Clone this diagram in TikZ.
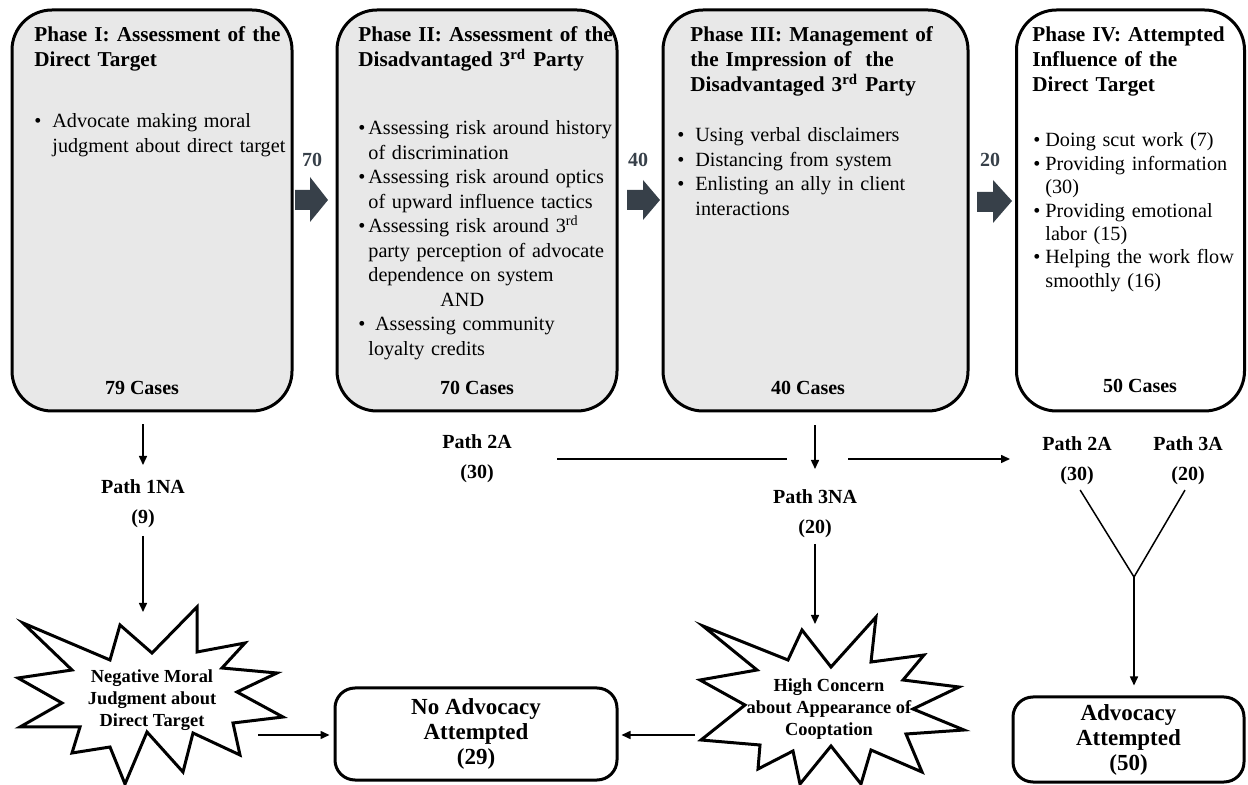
\documentclass[tikz,border=0pt]{standalone}
\usepackage{fontspec}
\setmainfont{Liberation Serif}
\usetikzlibrary{arrows.meta}
\definecolor{arrowgray}{RGB}{55,64,73}
\definecolor{boxgray}{RGB}{232,232,232}
\newcommand{\bitem}[2]{\leftskip=#1\relax\noindent\hspace*{-#1}\makebox[#1][l]{\textbullet}#2\par}
\begin{document}
\begin{tikzpicture}[x=0.5pt,y=-0.5pt,
  phase/.style={draw=black, line width=1.5pt, rounded corners=20pt, inner sep=0, minimum height=200.5pt},
  title/.style={anchor=base west, inner sep=0, text width=200pt, align=left, font=\fontsize{10.6}{12.5}\selectfont\bfseries},
  body/.style={anchor=base west, inner sep=0, text width=200pt, align=left, font=\fontsize{10.1}{12.25}\selectfont},
  cases/.style={anchor=base, inner sep=0, font=\fontsize{10}{12}\selectfont\bfseries},
  num/.style={anchor=base, inner sep=0, text=arrowgray, font=\fontsize{10}{12}\selectfont\bfseries},
  bigarrow/.style={fill=arrowgray},
  pathlbl/.style={anchor=north, inner sep=0, align=center, font=\fontsize{10}{15}\selectfont\bfseries},
  conn/.style={line width=0.75pt, -{Triangle[length=4.5pt,width=4pt]}},
  plain/.style={line width=0.75pt},
  burst/.style={draw, line width=1.5pt, fill=white, line join=miter},
  bursttext/.style={inner sep=0, align=center, font=\fontsize{9.2}{10.85}\selectfont\bfseries},
  outcome/.style={draw, line width=1.5pt, rounded corners=10pt, inner sep=0, align=center, font=\fontsize{11.5}{12.5}\selectfont\bfseries}
]
\useasboundingbox (0,0) rectangle (1248,785);

% phase boxes
\node[phase, fill=boxgray, minimum width=140pt] (b1) at (152,210.5) {};
\node[phase, fill=boxgray, minimum width=140pt] (b2) at (477,210.5) {};
\node[phase, fill=boxgray, minimum width=152.5pt] (b3) at (815.5,210.5) {};
\node[phase, fill=white, minimum width=114pt] (b4) at (1130.5,210.5) {};

% titles
\node[title] (t1) at (34,42) {Phase I: Assessment of the\\Direct Target};
\node[title] (t2) at (358,42) {Phase II: Assessment of the\\Disadvantaged 3\textsuperscript{rd} Party};
\node[title] (t3) at (690,42) {Phase III: Management of\\the Impression of\ \ the\\Disadvantaged 3\textsuperscript{rd} Party};
\node[title] (t4) at (1032,42) {Phase IV: Attempted\\Influence of the\\Direct Target};

% bodies
\node[body] (d1) at (34,128) {\bitem{9pt}{Advocate making moral\newline judgment about direct target}};
\node[body] (d2) at (358,135) {\bitem{5pt}{Assessing risk around history\newline of discrimination}\bitem{5pt}{Assessing risk around optics\newline of upward influence tactics}\bitem{5pt}{Assessing risk around 3\textsuperscript{rd}\newline party perception of advocate\newline dependence on system}\noindent\hspace*{36pt}AND\par\bitem{5pt}{\ Assessing community\newline loyalty credits}};
\node[body] (d3) at (677,142) {\bitem{9pt}{Using verbal disclaimers}\bitem{9pt}{Distancing from system}\bitem{9pt}{Enlisting an ally in client\newline interactions}};
\node[body, font=\fontsize{10.1}{11.7}\selectfont] (d4) at (1033,147) {\bitem{6pt}{Doing scut work (7)}\bitem{6pt}{Providing information\newline (30)}\bitem{6pt}{Providing emotional\newline labor (15)}\bitem{6pt}{Helping the work flow\newline smoothly (16)}};

% cases
\node[cases] (c1) at (142,395) {79 Cases};
\node[cases] (c2) at (477,395) {70 Cases};
\node[cases] (c3) at (808,395) {40 Cases};
\node[cases] (c4) at (1140,393) {50 Cases};

% big arrows and numbers
\fill[bigarrow] (295,190) -- (310,190) -- (310,177) -- (328,200) -- (310,222) -- (310,210) -- (295,210) -- cycle;
\fill[bigarrow] (627,190) -- (643,190) -- (643,180) -- (660,200) -- (643,220) -- (643,210) -- (627,210) -- cycle;
\fill[bigarrow] (977,192) -- (993,192) -- (993,180) -- (1012,201) -- (993,223) -- (993,212) -- (977,212) -- cycle;
\node[num] (n1) at (312,167) {70};
\node[num] (n2) at (638,167) {40};
\node[num] (n3) at (990,167) {20};

% path labels
\node[pathlbl] (p1) at (143,479) {Path 1NA\\(9)};
\node[pathlbl] (p2) at (477,434) {Path 2A\\(30)};
\node[pathlbl] (p3) at (815,489) {Path 3NA\\(20)};
\node[pathlbl] (p2r) at (1077,436) {Path 2A\\(30)};
\node[pathlbl] (p3r) at (1188,436) {Path 3A\\(20)};

% starbursts
\draw[burst] (23,623) -- (110,660) -- (120,625) -- (152,653) -- (197,607) -- (197,652) -- (245,643) -- (222,668) -- (277,673) -- (237,692) -- (283,717) -- (233,723) -- (240,755) -- (193,733) -- (183,772) -- (147,732) -- (125,784) -- (110,747) -- (72,753) -- (80,727) -- (20,727) -- (62,703) -- (18,678) -- (72,670) -- cycle;
\node[bursttext] (neg) at (152,700) {Negative Moral\\Judgment about\\Direct Target};
\draw[burst] (703,626) -- (788,660) -- (802,630) -- (831,667) -- (876,617) -- (871,662) -- (924,655) -- (903,680) -- (959,687) -- (913,709) -- (964,730) -- (906,734) -- (922,772) -- (871,750) -- (861,784) -- (831,746) -- (800,784) -- (793,751) -- (758,769) -- (760,745) -- (701,740) -- (745,705) -- (700,680) -- (757,670) -- cycle;
\node[bursttext] (hc) at (829,709) {High Concern\\about Appearance of\\Cooptation};

% outcome boxes
\node[outcome, minimum width=141pt, minimum height=46pt] (noadv) at (476,734) {No Advocacy\\Attempted\\(29)};
\node[outcome, minimum width=115.5pt, minimum height=42.5pt] (adv) at (1128.5,739.5) {Advocacy\\Attempted\\(50)};

% free-end coordinates
\coordinate (negin) at (143,612);
\coordinate (negout) at (258,735);
\coordinate (hcin) at (815,624);
\coordinate (hcout) at (695,735);
\coordinate (h1) at (557,459);
\coordinate (h2) at (787,459);
\coordinate (h3) at (848,459);
\coordinate (h4) at (1010,459);
\coordinate (yj) at (1134,577);

% connectors
\draw[conn, shorten <=6pt, shorten >=7pt] (b1.south -| p1.north) -- (p1.north);
\draw[conn, shorten <=4pt] (p1.south) -- (negin);
\draw[conn, shorten >=2pt] (negout) -- (negout -| noadv.west);
\draw[conn, shorten >=1.5pt] (hcout) -- (hcout -| noadv.east);
\draw[conn, shorten <=6.5pt, shorten >=10pt] (b3.south -| p3.north) -- (p3.north);
\draw[conn, shorten <=3pt] (p3.south) -- (hcin);
\draw[plain] (h1) -- (h2);
\draw[conn] (h3) -- (h4);
\draw[plain, shorten <=3pt] (p2r.south) -- (yj);
\draw[plain, shorten <=3pt] (p3r.south) -- (yj);
\draw[conn, shorten >=5pt] (yj) -- (yj |- adv.north);
\end{tikzpicture}
\end{document}
